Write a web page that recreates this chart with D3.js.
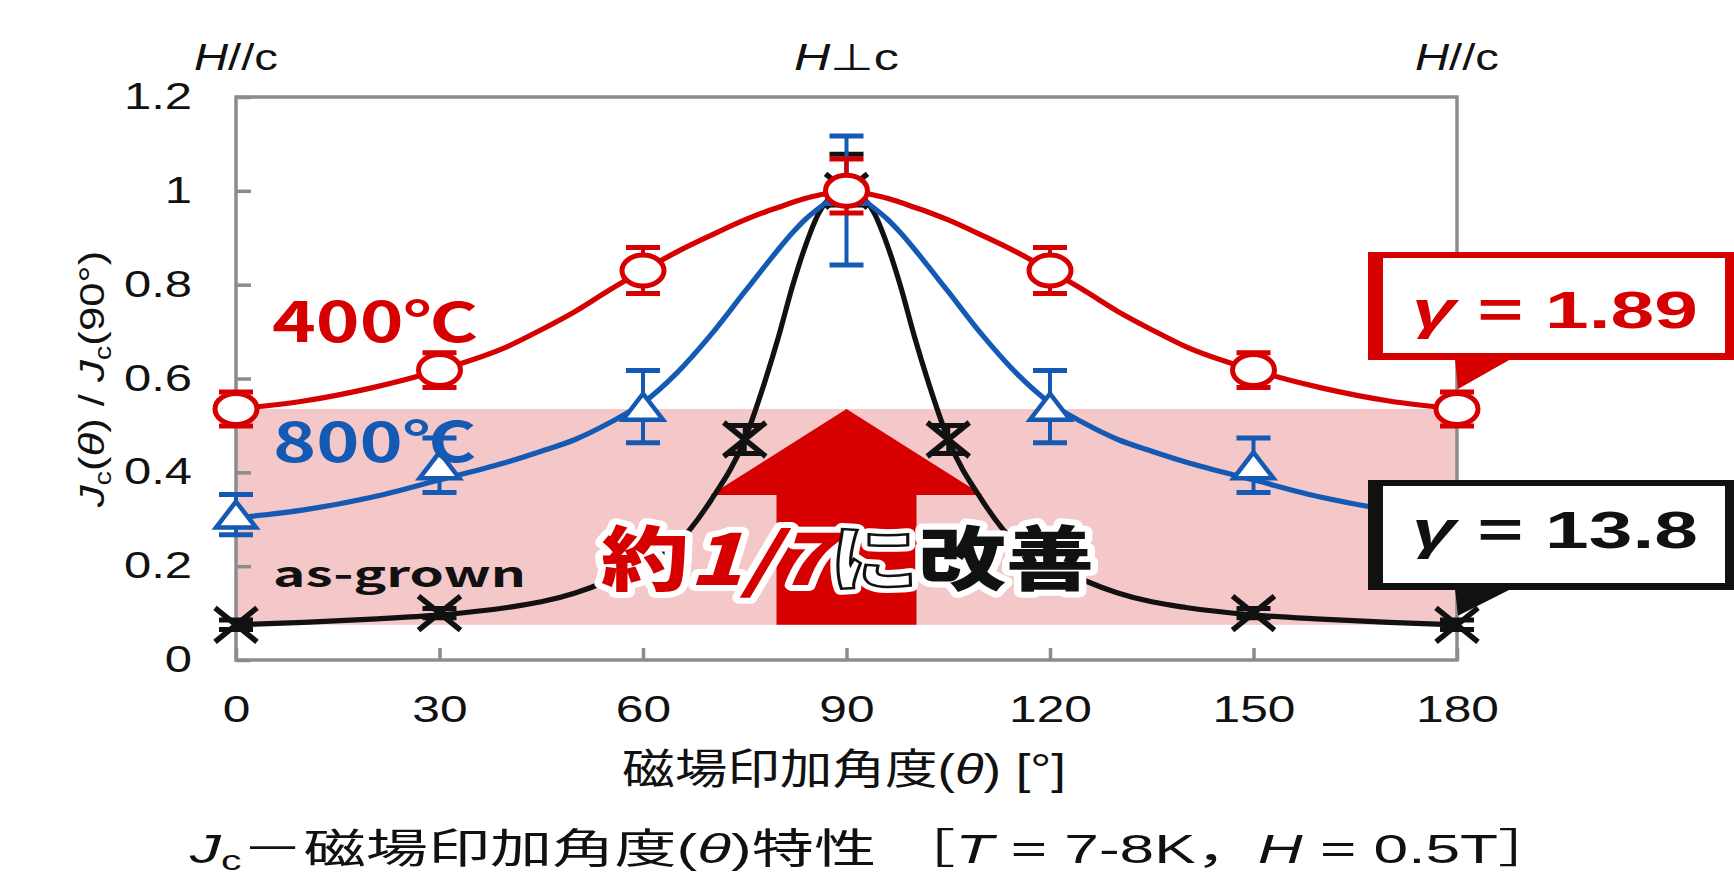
<!DOCTYPE html>
<html>
<head>
<meta charset="utf-8">
<script src="https://cdn.jsdelivr.net/npm/d3@7"></script>
<style>
  html, body { margin: 0; padding: 0; background: #fff; }
  svg { display: block; }
</style>
</head>
<body>
<svg id="chart" width="1734" height="875"></svg>
<script>
// ---- fitted curves: Jc(θ)/Jc(90°) sampled along the angle axis ----
const curveAngles = [0,10,20,30,40,45,50,55,60,65,70,75,78,80,82,84,86,88,90,92,94,96,98,100,102,105,110,115,120,125,130,135,140,150,160,170,180];
const fit400 = [0.535,0.552,0.580,0.618,0.668,0.704,0.743,0.788,0.830,0.870,0.905,0.938,0.955,0.965,0.975,0.984,0.991,0.997,1.0,0.997,0.991,0.984,0.975,0.965,0.955,0.938,0.905,0.870,0.830,0.788,0.743,0.704,0.668,0.618,0.580,0.552,0.535];
const fit800 = [0.303,0.320,0.347,0.384,0.422,0.445,0.470,0.505,0.548,0.612,0.693,0.785,0.840,0.876,0.910,0.940,0.964,0.985,1.0,0.985,0.964,0.940,0.910,0.876,0.840,0.785,0.693,0.612,0.548,0.505,0.470,0.445,0.422,0.384,0.347,0.320,0.303];
const fitAsGrown = [0.075,0.080,0.087,0.096,0.112,0.124,0.143,0.170,0.205,0.248,0.340,0.470,0.595,0.690,0.795,0.885,0.955,0.990,1.0,0.990,0.955,0.885,0.795,0.690,0.595,0.470,0.340,0.248,0.205,0.170,0.143,0.124,0.112,0.096,0.087,0.080,0.075];

// ---- measured points with error bars ----
const angles = [0,30,60,90,120,150,180];
const val400 = [0.535,0.618,0.830,1.0,0.830,0.618,0.535];
const errUp400 = [0.036,0.037,0.049,0.068,0.049,0.037,0.036];
const errDn400 = [0.036,0.037,0.049,0.047,0.049,0.037,0.036];
const val800 = [0.31,0.415,0.54,1.0,0.54,0.415,0.31];
const errUp800 = [0.043,0.058,0.077,0.117,0.077,0.058,0.043];
const errDn800 = [0.043,0.058,0.077,0.158,0.077,0.058,0.043];
const anglesAsGrown = [0,30,75,90,105,150,180];
const valAsGrown = [0.075,0.10,0.47,1.0,0.47,0.10,0.075];
const errUpAsGrown = [0.01,0.01,0.03,0.078,0.03,0.01,0.01];
const errDnAsGrown = [0.01,0.01,0.03,0.03,0.03,0.01,0.01];

// ---- axes ----
const xTicks = [0,30,60,90,120,150,180];
const xTickLabels = ["0","30","60","90","120","150","180"];
const yTicks = [0,0.2,0.4,0.6,0.8,1,1.2];
const yTickLabels = ["0","0.2","0.4","0.6","0.8","1","1.2"];
const orientLabels = [[0,"H","//c"],[90,"H","⊥c"],[180,"H","//c"]];
const gamma400 = "1.89";
const gammaAsGrown = "13.8";

const RED = "#d60000", BLUE = "#145ab4", BLACK = "#111111", FRAME = "#8c8c8c", PINK = "#f4c7c9";
const SANS = "'Liberation Sans', Arial, sans-serif";
const MIXED = "'Liberation Sans', 'Noto Sans CJK JP', sans-serif";
const GOTHIC = "'Noto Sans CJK JP', sans-serif";

const svg = d3.select("#chart");
svg.append("rect").attr("width", 1734).attr("height", 875).attr("fill", "#fff");

const plot = { left: 236, right: 1457, top: 97, bottom: 660 };
const x = d3.scaleLinear().domain([0, 180]).range([plot.left, plot.right]);
const y = d3.scaleLinear().domain([0, 1.2]).range([plot.bottom, plot.top]);

// Places a text group at (px,py) and stretches it horizontally to a given width.
function fitted(parent, px, py, width, build, rotate) {
  const outer = parent.append("g")
    .attr("transform", `translate(${px},${py})` + (rotate ? ` rotate(${rotate})` : ""));
  const inner = outer.append("g");
  const measureNode = build(inner);
  const w = (measureNode || inner.node()).getBBox().width;
  inner.attr("transform", `scale(${width / w},1)`);
  return outer;
}

// ---- improvement band between as-grown and 400℃ minima ----
svg.append("rect")
  .attr("x", x(0)).attr("width", x(180) - x(0))
  .attr("y", y(val400[0])).attr("height", y(valAsGrown[0]) - y(val400[0]))
  .attr("fill", PINK);

// ---- frame and axes ----
svg.append("rect")
  .attr("x", plot.left).attr("y", plot.top)
  .attr("width", plot.right - plot.left).attr("height", plot.bottom - plot.top)
  .attr("fill", "none").attr("stroke", FRAME).attr("stroke-width", 3.5);

const yAxis = svg.append("g").attr("transform", `translate(${plot.left},0)`)
  .call(d3.axisLeft(y).tickValues(yTicks).tickFormat((d, i) => yTickLabels[i])
    .tickSizeInner(-15).tickSizeOuter(0).tickPadding(44));
yAxis.select(".domain").remove();
yAxis.selectAll(".tick line").attr("stroke", FRAME).attr("stroke-width", 3.5);
yAxis.selectAll(".tick text")
  .attr("x", 0).attr("transform", "translate(-44,0) scale(1.36,1)")
  .attr("font-family", SANS).attr("font-size", 36).attr("fill", BLACK);

const xAxis = svg.append("g").attr("transform", `translate(0,${plot.bottom})`)
  .call(d3.axisBottom(x).tickValues(xTicks).tickFormat((d, i) => xTickLabels[i])
    .tickSizeInner(-12).tickSizeOuter(0).tickPadding(36));
xAxis.select(".domain").remove();
xAxis.selectAll(".tick line").attr("stroke", FRAME).attr("stroke-width", 3.5);
xAxis.selectAll(".tick text")
  .attr("transform", "scale(1.38,1)")
  .attr("font-family", SANS).attr("font-size", 36).attr("fill", BLACK);

// ---- upward arrow from the as-grown level to the 400℃ level ----
{
  const ax = x(90), aTop = y(val400[0]), aBot = y(valAsGrown[0]);
  const headH = 86, headHalf = 136, shaftHalf = 70;
  svg.append("path")
    .attr("d", `M${ax},${aTop} L${ax + headHalf},${aTop + headH} L${ax + shaftHalf},${aTop + headH}
      L${ax + shaftHalf},${aBot} L${ax - shaftHalf},${aBot} L${ax - shaftHalf},${aTop + headH}
      L${ax - headHalf},${aTop + headH} Z`)
    .attr("fill", RED);
}

// ---- fitted curves ----
const line = d3.line().x(d => x(d[0])).y(d => y(d[1])).curve(d3.curveMonotoneX);
[[fitAsGrown, BLACK], [fit800, BLUE], [fit400, RED]].forEach(([vals, color]) => {
  svg.append("path")
    .attr("d", line(d3.zip(curveAngles, vals)))
    .attr("fill", "none").attr("stroke", color).attr("stroke-width", 5.2)
    .attr("stroke-linejoin", "round");
});

// ---- error bars and markers ----
function drawPoints(as, vs, ups, dns, color, shape) {
  const g = svg.append("g");
  const pts = as.map((a, i) => ({ a, v: vs[i], up: ups[i], dn: dns[i] }));
  pts.forEach(p => {
    const cx = x(p.a), yHi = y(p.v + p.up), yLo = y(p.v - p.dn);
    g.append("line").attr("x1", cx).attr("x2", cx).attr("y1", yHi).attr("y2", yLo)
      .attr("stroke", color).attr("stroke-width", 4);
    [yHi, yLo].forEach(yy => g.append("line")
      .attr("x1", cx - 17).attr("x2", cx + 17).attr("y1", yy).attr("y2", yy)
      .attr("stroke", color).attr("stroke-width", 5));
  });
  pts.forEach(p => {
    const cx = x(p.a), cy = y(p.v);
    if (shape === "circle") {
      g.append("ellipse").attr("cx", cx).attr("cy", cy).attr("rx", 21).attr("ry", 15.5)
        .attr("fill", "#fff").attr("stroke", color).attr("stroke-width", 5);
    } else if (shape === "triangle") {
      g.append("path").attr("d", `M${cx},${cy - 13} L${cx + 20},${cy + 13} L${cx - 20},${cy + 13} Z`)
        .attr("fill", "#fff").attr("stroke", color).attr("stroke-width", 4.5);
    } else {
      g.append("path").attr("d", `M${cx - 21},${cy - 17} L${cx + 21},${cy + 17} M${cx - 21},${cy + 17} L${cx + 21},${cy - 17}`)
        .attr("fill", "none").attr("stroke", color).attr("stroke-width", 5.5);
    }
  });
}
drawPoints(anglesAsGrown, valAsGrown, errUpAsGrown, errDnAsGrown, BLACK, "cross");
drawPoints(angles, val800, errUp800, errDn800, BLUE, "triangle");
drawPoints(angles, val400, errUp400, errDn400, RED, "circle");

// ---- series labels ----
const seriesLabels = [
  { text: "400℃", color: RED, px: 272, py: 342, width: 206, size: 55 },
  { text: "800℃", color: BLUE, px: 273, py: 462, width: 203, size: 54 },
  { text: "as-grown", color: BLACK, px: 273, py: 587, width: 253, size: 35 }
];
seriesLabels.forEach(l => fitted(svg, l.px, l.py, l.width, g => {
  g.append("text").attr("font-family", GOTHIC).attr("font-weight", 700)
    .attr("font-size", l.size).attr("fill", l.color).text(l.text);
}));

// ---- orientation labels above the frame ----
orientLabels.forEach(([a, h, rest]) => {
  fitted(svg, x(a), 70, a === 90 ? 105 : 84, g => {
    const t = g.append("text").attr("text-anchor", "middle")
      .attr("font-family", SANS).attr("font-size", 37).attr("fill", BLACK);
    t.append("tspan").attr("font-style", "italic").text(h);
    t.append("tspan").text(rest);
  });
});

// ---- axis titles ----
fitted(svg, 844, 784, 444, g => {
  const t = g.append("text").attr("text-anchor", "middle")
    .attr("font-family", MIXED).attr("font-size", 42).attr("fill", BLACK);
  t.append("tspan").text("磁場印加角度(");
  t.append("tspan").attr("font-style", "italic").text("θ");
  t.append("tspan").text(") [°]");
});

fitted(svg, 104, 379, 258, g => {
  const t = g.append("text").attr("text-anchor", "middle")
    .attr("font-family", SANS).attr("font-size", 36).attr("fill", BLACK);
  t.append("tspan").attr("font-style", "italic").text("J");
  t.append("tspan").attr("font-size", 24).attr("dy", 7).text("c");
  t.append("tspan").attr("dy", -7).text("(");
  t.append("tspan").attr("font-style", "italic").text("θ");
  t.append("tspan").text(") / ");
  t.append("tspan").attr("font-style", "italic").text("J");
  t.append("tspan").attr("font-size", 24).attr("dy", 7).text("c");
  t.append("tspan").attr("dy", -7).text("(90°)");
}, -90);

// ---- caption ----
fitted(svg, 875, 863, 1372, g => {
  const t = g.append("text").attr("text-anchor", "middle")
    .attr("font-family", MIXED).attr("font-size", 41).attr("fill", BLACK);
  t.append("tspan").attr("font-style", "italic").text("J");
  t.append("tspan").attr("font-size", 27).attr("dy", 7).text("c");
  t.append("tspan").attr("dy", -7).text("－磁場印加角度(");
  t.append("tspan").attr("font-style", "italic").text("θ");
  t.append("tspan").text(")特性 ［");
  t.append("tspan").attr("font-style", "italic").text("T");
  t.append("tspan").text(" = 7-8K，");
  t.append("tspan").attr("font-style", "italic").text("H");
  t.append("tspan").text(" = 0.5T］");
});

// ---- "約1/7に改善" callout over the arrow ----
fitted(svg, 601, 585, 493, g => {
  const parts = [
    { s: "約", fill: RED },
    { s: "1/7", fill: RED, italic: true },
    { s: "に", fill: "#fff", stroke: BLACK },
    { s: "改善", fill: BLACK }
  ];
  const mk = halo => {
    const t = g.append("text").attr("font-family", GOTHIC).attr("font-weight", 900).attr("font-size", 70);
    parts.forEach(p => {
      const ts = t.append("tspan").text(p.s);
      if (p.italic) ts.attr("font-style", "italic");
      if (halo) {
        ts.attr("fill", "#fff").attr("stroke", "#fff").attr("stroke-width", 12).attr("stroke-linejoin", "round");
      } else {
        ts.attr("fill", p.fill);
        if (p.stroke) ts.attr("stroke", p.stroke).attr("stroke-width", 2.5);
      }
    });
    return t;
  };
  mk(true);
  return mk(false).node();
});

// ---- anisotropy callouts ----
function gammaBox(top, height, color, value, tipY, textY) {
  const left = 1368, right = 1745, border = 15, bt = 6, tx = x(180);
  svg.append("rect").attr("x", left).attr("y", top).attr("width", right - left).attr("height", height).attr("fill", color);
  svg.append("rect").attr("x", left + border).attr("y", top + bt)
    .attr("width", 1725 - (left + border)).attr("height", height - 2 * bt - 1).attr("fill", "#fff");
  svg.append("path")
    .attr("d", `M${tx - 2},${top + height - 1} L${tx + 54},${top + height - 1} L${tx + 1},${tipY} Z`)
    .attr("fill", color);
  fitted(svg, 1412, textY, 286, g => {
    const t = g.append("text").attr("font-family", SANS).attr("font-weight", 700)
      .attr("font-size", 51).attr("fill", color);
    t.append("tspan").attr("font-style", "italic").text("γ");
    t.append("tspan").text(" = " + value);
  });
}
gammaBox(252, 108, RED, gamma400, y(val400[6]) - 20, 328);
gammaBox(480, 110, BLACK, gammaAsGrown, y(valAsGrown[6]) - 9, 548);
</script>
</body>
</html>
